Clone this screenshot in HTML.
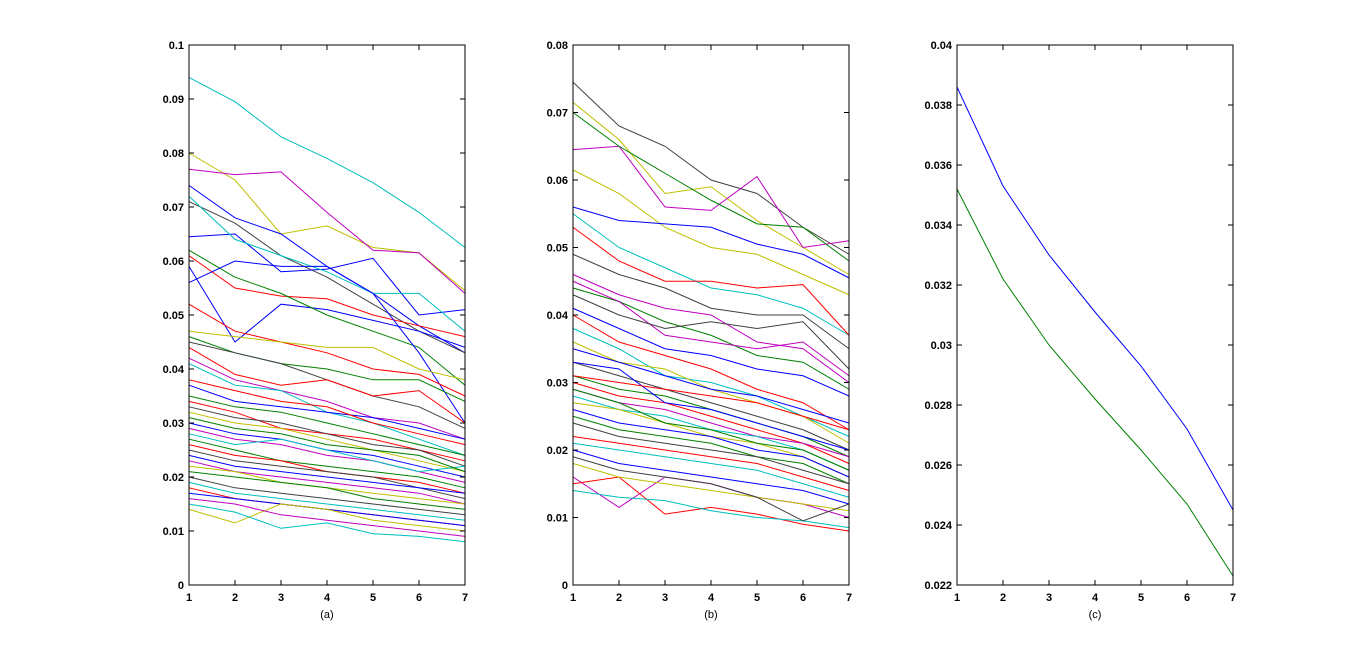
<!DOCTYPE html>
<html><head><meta charset="utf-8"><style>
body{margin:0;background:#fff;}
svg{display:block;font-family:"Liberation Sans",Arial,sans-serif;}
</style></head><body>
<svg id="fig" width="1367" height="657"></svg>
<script>
const xCats=[1,2,3,4,5,6,7];
const colorsA=["#00bfbf","#bfbf00","#bf00bf","#0000ff","#404040","#0000ff","#00bfbf","#ff0000","#0000ff","#008000","#0000ff","#ff0000","#bfbf00","#008000","#404040","#ff0000","#bf00bf","#00bfbf","#0000ff","#008000","#ff0000","#404040","#bfbf00","#0000ff","#bf00bf","#00bfbf","#008000","#ff0000","#404040","#0000ff","#bf00bf","#bfbf00","#008000","#00bfbf","#ff0000","#0000ff","#bfbf00","#00bfbf","#bf00bf","#404040","#008000","#ff0000"];
const seriesA=[
[0.094,0.0895,0.083,0.079,0.0745,0.069,0.0625],
[0.080,0.075,0.065,0.0665,0.0625,0.0615,0.0545],
[0.077,0.076,0.0765,0.069,0.062,0.0615,0.054],
[0.074,0.068,0.065,0.059,0.054,0.048,0.043],
[0.071,0.067,0.061,0.057,0.052,0.047,0.043],
[0.0645,0.065,0.058,0.0585,0.0605,0.050,0.051],
[0.072,0.064,0.061,0.058,0.054,0.054,0.047],
[0.061,0.055,0.0535,0.053,0.050,0.048,0.046],
[0.059,0.045,0.052,0.051,0.049,0.047,0.044],
[0.062,0.057,0.054,0.050,0.047,0.044,0.037],
[0.056,0.060,0.059,0.059,0.054,0.043,0.030],
[0.052,0.047,0.045,0.043,0.040,0.039,0.035],
[0.047,0.046,0.045,0.044,0.044,0.040,0.038],
[0.046,0.043,0.041,0.040,0.038,0.038,0.034],
[0.045,0.043,0.041,0.038,0.035,0.033,0.029],
[0.044,0.039,0.037,0.038,0.035,0.036,0.030],
[0.042,0.038,0.036,0.034,0.031,0.030,0.027],
[0.041,0.037,0.036,0.032,0.030,0.027,0.024],
[0.037,0.034,0.033,0.032,0.031,0.029,0.027],
[0.035,0.033,0.032,0.030,0.028,0.026,0.024],
[0.034,0.032,0.029,0.028,0.027,0.025,0.023],
[0.033,0.031,0.030,0.028,0.026,0.025,0.022],
[0.032,0.030,0.029,0.027,0.025,0.023,0.021],
[0.030,0.028,0.027,0.025,0.024,0.022,0.020],
[0.029,0.027,0.026,0.024,0.023,0.021,0.019],
[0.028,0.026,0.027,0.025,0.023,0.021,0.022],
[0.027,0.025,0.023,0.022,0.021,0.020,0.018],
[0.026,0.024,0.023,0.021,0.020,0.019,0.017],
[0.025,0.023,0.022,0.021,0.020,0.018,0.016],
[0.024,0.022,0.021,0.020,0.019,0.018,0.017],
[0.023,0.021,0.020,0.019,0.018,0.017,0.015],
[0.022,0.021,0.019,0.018,0.017,0.016,0.015],
[0.021,0.020,0.019,0.018,0.016,0.015,0.014],
[0.019,0.017,0.016,0.015,0.014,0.013,0.012],
[0.018,0.016,0.015,0.014,0.013,0.012,0.011],
[0.017,0.016,0.015,0.014,0.013,0.012,0.011],
[0.014,0.0115,0.015,0.014,0.012,0.011,0.010],
[0.015,0.0135,0.0105,0.0115,0.0095,0.009,0.008],
[0.016,0.015,0.013,0.012,0.011,0.010,0.009],
[0.020,0.018,0.017,0.016,0.015,0.014,0.013],
[0.031,0.029,0.028,0.026,0.025,0.024,0.021],
[0.038,0.036,0.034,0.033,0.030,0.028,0.026]];
const colorsB=["#404040","#bfbf00","#bf00bf","#bfbf00","#008000","#0000ff","#00bfbf","#ff0000","#404040","#008000","#bf00bf","#0000ff","#ff0000","#00bfbf","#bfbf00","#0000ff","#404040","#008000","#ff0000","#bf00bf","#00bfbf","#bfbf00","#0000ff","#008000","#404040","#ff0000","#00bfbf","#0000ff","#bf00bf","#ff0000","#00bfbf","#bfbf00","#404040","#008000","#0000ff","#ff0000","#bf00bf","#404040"];
const seriesB=[
[0.0745,0.068,0.065,0.060,0.058,0.053,0.049],
[0.0715,0.066,0.058,0.059,0.054,0.050,0.046],
[0.0645,0.065,0.056,0.0555,0.0605,0.050,0.051],
[0.0615,0.058,0.053,0.050,0.049,0.046,0.043],
[0.070,0.065,0.061,0.057,0.0535,0.053,0.048],
[0.056,0.054,0.0535,0.053,0.0505,0.049,0.0455],
[0.055,0.050,0.047,0.044,0.043,0.041,0.037],
[0.053,0.048,0.045,0.045,0.044,0.0445,0.037],
[0.049,0.046,0.044,0.041,0.040,0.040,0.035],
[0.044,0.042,0.039,0.037,0.034,0.033,0.029],
[0.046,0.043,0.041,0.040,0.036,0.035,0.030],
[0.041,0.038,0.035,0.034,0.032,0.031,0.028],
[0.040,0.036,0.034,0.032,0.029,0.027,0.023],
[0.038,0.035,0.031,0.030,0.028,0.025,0.022],
[0.036,0.033,0.032,0.029,0.027,0.025,0.021],
[0.035,0.033,0.031,0.029,0.028,0.026,0.024],
[0.033,0.031,0.029,0.027,0.025,0.023,0.020],
[0.031,0.029,0.028,0.026,0.024,0.022,0.019],
[0.030,0.028,0.027,0.025,0.023,0.021,0.018],
[0.029,0.027,0.026,0.024,0.022,0.021,0.019],
[0.028,0.026,0.025,0.023,0.022,0.020,0.017],
[0.027,0.026,0.024,0.022,0.021,0.019,0.016],
[0.026,0.024,0.023,0.022,0.020,0.019,0.016],
[0.025,0.023,0.022,0.021,0.019,0.018,0.015],
[0.024,0.022,0.021,0.020,0.019,0.017,0.015],
[0.022,0.021,0.020,0.019,0.018,0.016,0.014],
[0.021,0.020,0.019,0.018,0.017,0.015,0.013],
[0.020,0.018,0.017,0.016,0.015,0.014,0.012],
[0.016,0.0115,0.016,0.015,0.013,0.012,0.010],
[0.015,0.016,0.0105,0.0115,0.0105,0.009,0.008],
[0.014,0.013,0.0125,0.011,0.010,0.0095,0.0085],
[0.018,0.016,0.015,0.014,0.013,0.012,0.011],
[0.019,0.017,0.016,0.015,0.013,0.0095,0.012],
[0.029,0.027,0.024,0.023,0.021,0.020,0.017],
[0.033,0.032,0.027,0.026,0.024,0.022,0.020],
[0.031,0.030,0.029,0.028,0.027,0.025,0.023],
[0.045,0.042,0.037,0.036,0.035,0.036,0.031],
[0.043,0.040,0.038,0.039,0.038,0.039,0.032]];
const colorsC=["#0000ff","#008000"];
const seriesC=[
[0.0386,0.0353,0.0330,0.0311,0.0293,0.0272,0.0245],
[0.0352,0.0322,0.0300,0.0282,0.0265,0.0247,0.0223]];
const ticksA=["0","0.01","0.02","0.03","0.04","0.05","0.06","0.07","0.08","0.09","0.1"];
const ticksB=["0","0.01","0.02","0.03","0.04","0.05","0.06","0.07","0.08"];
const ticksC=["0.022","0.024","0.026","0.028","0.03","0.032","0.034","0.036","0.038","0.04"];

const NS="http://www.w3.org/2000/svg";
const svg=document.getElementById('fig');
function mk(tag,attrs,parent){const e=document.createElementNS(NS,tag);for(const k in attrs)e.setAttribute(k,attrs[k]);(parent||svg).appendChild(e);return e;}

function panel(name,x0,x1,y0,y1,ymin,ymax,ticks,series,colors,label){
  const g=mk('g',{});
  
  
  const sx=v=>x0+(v-1)/6*(x1-x0);
  const sy=v=>y1-(v-ymin)/(ymax-ymin)*(y1-y0);
  mk('rect',{x:x0,y:y0,width:x1-x0,height:y1-y0,fill:'#fff'},g);
  series.forEach((s,i)=>{
    const p=mk('polyline',{points:s.map((v,j)=>sx(xCats[j])+','+sy(v)).join(' '),fill:'none',stroke:colors[i%colors.length],'stroke-width':1},g);
    
    
  });
  const box=mk('rect',{x:x0,y:y0,width:x1-x0,height:y1-y0,fill:'none',stroke:'#000','stroke-width':1},g);
  
  
  ticks.forEach(t=>{
    const y=sy(parseFloat(t));
    mk('line',{x1:x0,x2:x0+5,y1:y,y2:y,stroke:'#000'},g);
    mk('line',{x1:x1,x2:x1-5,y1:y,y2:y,stroke:'#000'},g);
    const tx=mk('text',{x:x0-5,y:y+4,'text-anchor':'end','font-size':11,'font-weight':'bold'},g);
    tx.textContent=t;
    
    
  });
  xCats.forEach(c=>{
    const x=sx(c);
    mk('line',{x1:x,x2:x,y1:y1,y2:y1-5,stroke:'#000'},g);
    mk('line',{x1:x,x2:x,y1:y0,y2:y0+5,stroke:'#000'},g);
    const tx=mk('text',{x:x,y:y1+16,'text-anchor':'middle','font-size':11,'font-weight':'bold'},g);
    tx.textContent=c;
    
    
  });
  const lb=mk('text',{x:(x0+x1)/2,y:y1+33,'text-anchor':'middle','font-size':11},g);
  lb.textContent=label;
  
  
}
panel('panel-a',189,465,45,585,0,0.1,ticksA,seriesA,colorsA,'(a)');
panel('panel-b',573,849,45,585,0,0.08,ticksB,seriesB,colorsB,'(b)');
panel('panel-c',957,1233,45,585,0.022,0.04,ticksC,seriesC,colorsC,'(c)');
</script>
</body></html>
